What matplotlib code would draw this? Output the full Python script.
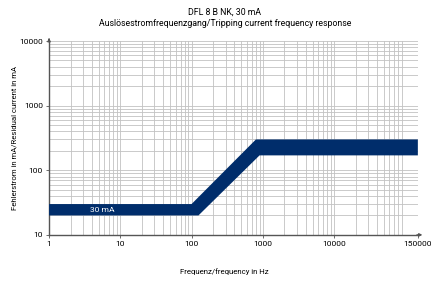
import numpy as np
import matplotlib
matplotlib.use("Agg")
import matplotlib.pyplot as plt
from matplotlib.ticker import FixedLocator, LogLocator, NullFormatter

# tripping band, upper and lower edge (frequency in Hz, current in mA)
upper_freq = [1, 100, 800, 150000]
upper_ma = [30, 30, 300, 300]
lower_freq = [1, 125, 900, 150000]
lower_ma = [20, 20, 170, 170]

x_ticks = [1, 10, 100, 1000, 10000, 150000]
x_labels = ["1", "10", "100", "1000", "10000", "150000"]
y_ticks = [10, 100, 1000, 10000]
y_labels = ["10", "100", "1000", "10000"]

band_label = "30 mA"
title = "DFL 8 B NK, 30 mA\nAuslösestromfrequenzgang/Tripping current frequency response"
xlabel = "Frequenz/frequency in Hz"
ylabel = "Fehlerstrom in mA/Residual current in mA"

plt.rcParams["font.family"] = ["Roboto", "DejaVu Sans"]
navy = "#002d6b"
grid_col = "#c2c2c2"

fig = plt.figure(figsize=(4.38, 2.83), dpi=100)
ax = fig.add_axes([0.112, 0.170, 0.842, 0.685])
ax.set_xscale("log")
ax.set_yscale("log")
ax.set_xlim(x_ticks[0], x_ticks[-1])
ax.set_ylim(y_ticks[0], y_ticks[-1])

# band polygon
px = np.concatenate([upper_freq, lower_freq[::-1]])
py = np.concatenate([upper_ma, lower_ma[::-1]])
ax.fill(px, py, color=navy, lw=0, zorder=3)
ax.text(5.6, np.sqrt(upper_ma[0] * lower_ma[0]), band_label, color="white",
        fontsize=6, ha="center", va="center", zorder=4)

# grid
ax.xaxis.set_major_locator(FixedLocator(x_ticks))
ax.set_xticklabels(x_labels)
ax.xaxis.set_minor_locator(LogLocator(base=10, subs=np.arange(2, 10), numticks=20))
ax.xaxis.set_minor_formatter(NullFormatter())
ax.yaxis.set_major_locator(FixedLocator(y_ticks))
ax.set_yticklabels(y_labels)
ax.yaxis.set_minor_locator(LogLocator(base=10, subs=np.arange(2, 10), numticks=20))
ax.yaxis.set_minor_formatter(NullFormatter())
ax.grid(True, which="both", color=grid_col, lw=0.6)
ax.set_axisbelow(True)

for s in ["top", "right"]:
    ax.spines[s].set_visible(False)
for s in ["left", "bottom"]:
    ax.spines[s].set_color("#555555")
    ax.spines[s].set_linewidth(1.0)
ax.tick_params(which="major", length=2.5, width=0.6, colors="#555555",
               labelcolor="black", labelsize=6, pad=2)
ax.tick_params(which="minor", length=0)

# arrow heads on axes
ax.annotate("", xy=(0, 1.03), xytext=(0, 0.99), xycoords="axes fraction",
            arrowprops=dict(arrowstyle="-|>", color="#555555", lw=1.0,
                            mutation_scale=4), annotation_clip=False)
ax.annotate("", xy=(1.02, 0), xytext=(0.99, 0), xycoords="axes fraction",
            arrowprops=dict(arrowstyle="-|>", color="#555555", lw=1.0,
                            mutation_scale=4), annotation_clip=False)

fig.text(0.513, 0.040, xlabel, ha="center", va="center", fontsize=5.6)
ax.set_ylabel(ylabel, fontsize=5.6, labelpad=1)
fig.text(0.513, 0.972, title, ha="center", va="top", fontsize=6.3, linespacing=1.35)

fig.savefig("out.png", dpi=100)
